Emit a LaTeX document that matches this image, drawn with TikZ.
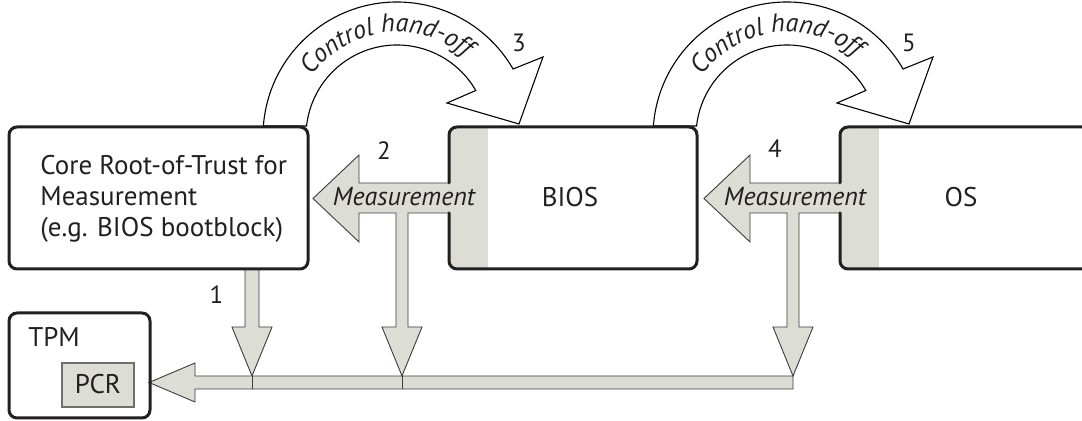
\documentclass[tikz,border=0pt]{standalone}
\usepackage{fontspec}
\setmainfont{PT Sans}
\usetikzlibrary{calc,decorations.text}

\definecolor{ink}{HTML}{231F20}
\definecolor{pale}{HTML}{DCDED6}
\definecolor{edge}{HTML}{3C3C3C}
\definecolor{pcredge}{HTML}{6E706B}

\begin{document}
\begin{tikzpicture}[x=0.5pt,y=0.5pt,
  frame/.style={draw=ink, line width=1.5pt, rounded corners=4pt, line cap=round},
  flowfill/.style={fill=pale},
  flowline/.style={draw=edge, line width=0.45pt, line join=miter},
  hand/.style={fill=white, draw=black, line width=0.55pt, line join=miter},
  main/.style={font=\fontsize{13.5}{15.5}\selectfont, text=ink, inner sep=0pt},
  ital/.style={font=\fontsize{13}{15}\selectfont\itshape, text=ink, inner sep=0pt},
  num/.style={font=\fontsize{12.5}{14}\selectfont, text=ink, inner sep=0pt},
]
\useasboundingbox (0,0) rectangle (1082,421);
\clip (0,0) rectangle (1082,421);

% centres of the two control hand-off arcs
\coordinate (c1) at (397,285);
\coordinate (c2) at (787,285);

% control hand-off arrows (curved block arrows)
\foreach \c/\dx in {c1/0, c2/390} {
  \draw[hand] ($(\c)+(175.7:134)$) arc[start angle=175.7, end angle=30, radius=134]
    -- (543+\dx,364) -- (519+\dx,297) -- (447+\dx,318)
    -- ($(\c)+(30:91)$) arc[start angle=30, end angle=173.7, radius=91] -- cycle;
  \path[decorate, decoration={text along path, text align=center,
      text={|\fontsize{13}{15}\selectfont\itshape\color{ink}|Control hand-off}}]
    ($(\c)+(164:104)$) arc[start angle=164, end angle=30, radius=104];
}

% measurement flow 1: CRTM into the bus
\fill[flowfill] (245,152) -- (245,94) -- (232,94) -- (252,45) -- (272,94) -- (259,94) -- (259,152) -- cycle;
\draw[flowline] (245,152) -- (245,94) -- (232,94) -- (252,45) -- (272,94) -- (259,94) -- (259,152);

% bus into the PCR
\draw[flowline, flowfill] (793,45) -- (195,45) -- (195,58) -- (149,38.5) -- (195,19) -- (195,32) -- (793,32) -- cycle;
\draw[flowline] (252,45) -- (252,32) (402,45) -- (402,32);

% CRTM box
\fill[white, rounded corners=4pt] (9,152) rectangle (308,294);
\node[main, align=left, anchor=base west] (crtm) at (40,184)
  {Core Root-of-Trust for\\Measurement\\(e.g. BIOS bootblock)};
\draw[frame] (9,152) rectangle (308,294);

% BIOS and OS boxes with their shaded entry strips
\foreach \x/\w in {449/248, 840/250} {
  \fill[white, rounded corners=4pt] (\x,152) rectangle ++(\w,142);
  \begin{scope}
    \clip[rounded corners=4pt] (\x,152) rectangle ++(\w,142);
    \fill[pale] (\x,152) rectangle ++(39,142);
  \end{scope}
}
% measurement arrows 2 and 4, each with its branch down to the bus
\foreach \dx in {0, 391} {
  \begin{scope}[xshift=\dx*0.5pt]
    \fill[flowfill] (449,238) -- (359,238) -- (359,266) -- (313,222.5) -- (359,179) -- (359,208)
      -- (396,208) -- (396,94) -- (382,94) -- (402,45) -- (422,94) -- (408,94) -- (408,208)
      -- (449,208) -- cycle;
    \draw[flowline] (449,238) -- (359,238) -- (359,266) -- (313,222.5) -- (359,179) -- (359,208)
      -- (396,208) -- (396,94) -- (382,94) -- (402,45) -- (422,94) -- (408,94) -- (408,208)
      -- (449,208);
  \end{scope}
}
\draw[frame] (449,208) -- (449,152) -- (697,152) -- (697,294) -- (449,294) -- (449,238);
\draw[frame] (840,208) -- (840,152) -- (1090,152) -- (1090,294) -- (840,294) -- (840,238);

\node[main, anchor=base] (bios) at (570,214) {BIOS};
\node[main, anchor=base] (os) at (961,214) {OS};
\node[ital, anchor=base] (meas2) at (404,215) {Measurement};
\node[ital, anchor=base] (meas4) at (795,215) {Measurement};

% TPM with its PCR
\draw[frame] (9,3) rectangle (150,108);
\node[main, anchor=base west] (tpm) at (28,74) {TPM};
\draw[fill=pale, draw=pcredge, line width=1pt] (62,14) rectangle (134,58);
\node[main, anchor=base] (pcr) at (98,27) {PCR};

% step numbers
\node[num] (n1) at (216.5,126) {1};
\node[num] (n2) at (384,270) {2};
\node[num] (n3) at (519,378) {3};
\node[num] (n4) at (775,272) {4};
\node[num] (n5) at (909,378) {5};
\end{tikzpicture}
\end{document}
